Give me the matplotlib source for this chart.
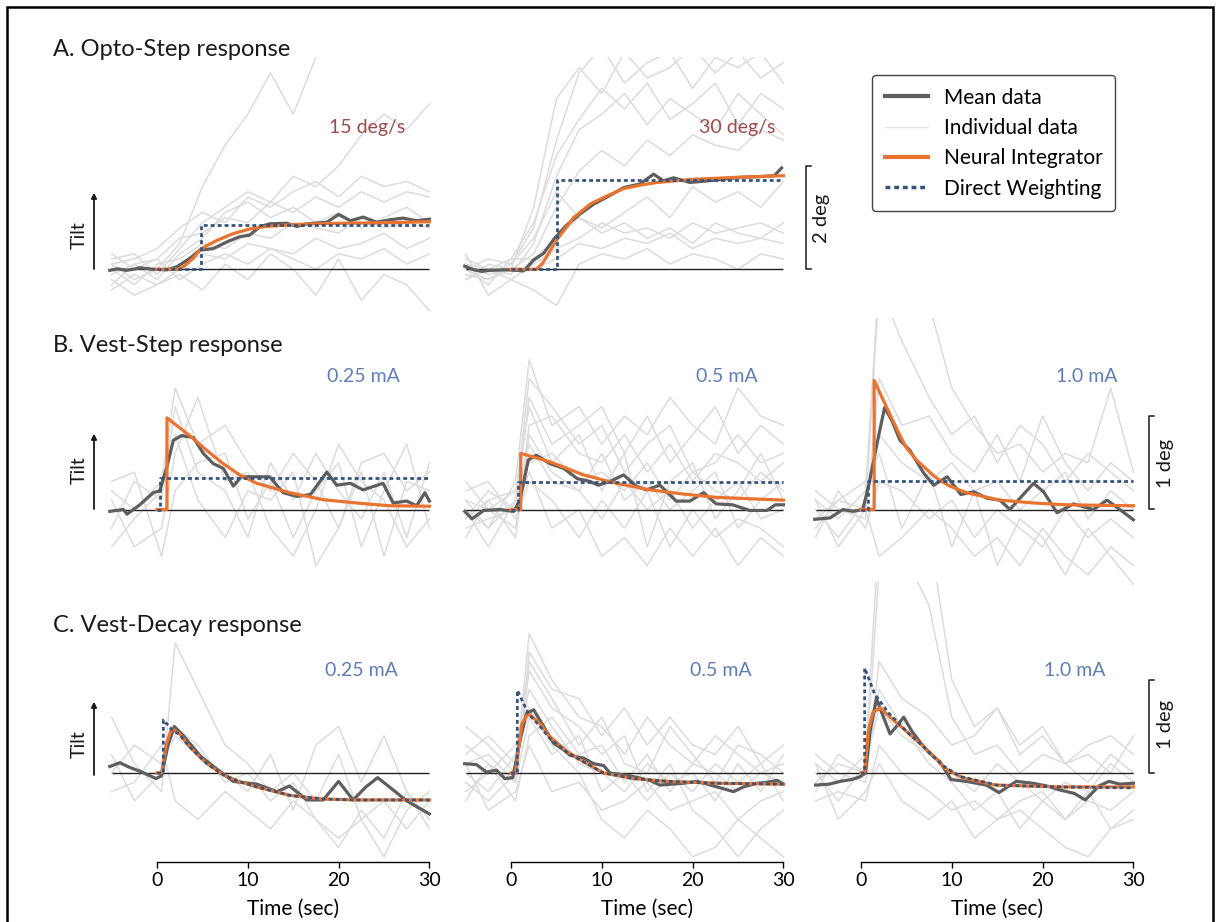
import matplotlib
matplotlib.use("Agg")
import matplotlib.pyplot as plt
from matplotlib.lines import Line2D
from matplotlib.patches import Rectangle

plt.rcParams['font.family'] = ['Lato', 'DejaVu Sans']

# ---------------- data (deg of tilt vs time in sec) ----------------
t_indiv_opto = [-5, -2.5, 0, 2.5, 5, 7.5, 10, 12.5, 15, 17.5, 20, 22.5, 25, 27.5, 30]
t_indiv_vest = [-5, -2.5, 0.5, 2, 4.5, 7.5, 10, 12.5, 15, 17.5, 20, 22.5, 25, 27.5, 30]

indiv_o15 = [
    [0.1, -0.2, 0.0, 0.5, 1.6, 2.4, 3.0, 3.8, 3.0, 4.1, 4.3, 4.5, 4.5, 4.5, 4.5],
    [0.2, 0.3, -0.1, 0.4, 0.9, 1.2, 1.5, 1.3, 1.8, 1.6, 2.0, 2.6, 3.0, 2.7, 3.2],
    [-0.3, 0.1, 0.2, 0.6, 0.7, 1.0, 0.9, 1.3, 1.1, 1.4, 1.2, 1.5, 1.3, 1.5, 1.4],
    [0.0, -0.3, 0.1, 0.2, 0.5, 0.4, 0.7, 0.6, 0.9, 0.8, 0.7, 1.0, 0.8, 0.9, 0.8],
    [-0.4, -0.1, -0.3, 0.0, 0.3, 0.2, 0.5, 0.4, 0.3, 0.6, 0.4, 0.5, 0.7, 0.4, 0.6],
    [0.3, 0.0, 0.2, -0.2, 0.1, 0.3, 0.1, 0.4, 0.2, 0.0, 0.3, 0.2, 0.4, 0.1, 0.3],
    [-0.2, -0.5, -0.3, -0.1, -0.4, 0.1, -0.2, 0.3, 0.0, -0.5, 0.2, -0.6, -0.1, -0.3, -0.8],
    [0.1, 0.2, 0.4, 0.8, 1.1, 0.9, 1.4, 1.2, 1.5, 1.7, 1.4, 1.8, 1.6, 1.7, 1.5],
    [-0.1, 0.1, -0.2, 0.3, 0.6, 1.1, 1.3, 1.0, 1.2, 0.9, 1.1, 0.8, 1.0, 1.2, 0.9],
]
indiv_o30 = [
    [0.0, -0.2, 0.1, 0.8, 2.5, 3.8, 4.3, 3.6, 4.0, 4.2, 3.5, 4.1, 3.9, 4.2, 3.6],
    [0.1, 0.0, -0.1, 0.5, 1.8, 2.7, 3.0, 3.4, 2.8, 3.3, 3.0, 2.7, 3.4, 3.0, 2.6],
    [-0.2, 0.1, 0.0, 0.3, 1.2, 1.9, 2.3, 2.0, 2.5, 2.2, 2.6, 2.4, 2.3, 2.7, 2.5],
    [0.0, -0.3, 0.2, 0.2, 0.6, 1.0, 0.8, 1.1, 1.4, 1.0, 1.6, 1.3, 1.5, 1.2, 1.7],
    [0.2, 0.0, -0.2, 0.1, 0.4, 0.6, 0.9, 0.7, 0.8, 0.6, 0.9, 0.7, 0.8, 0.9, 0.7],
    [-0.1, -0.2, 0.0, 0.0, 0.2, 0.5, 0.4, 0.6, 0.5, 0.7, 0.4, 0.6, 0.5, 0.6, 0.5],
    [0.3, -0.5, -0.2, -0.4, -0.7, 0.1, 0.3, 0.2, 0.4, 0.1, 0.3, 0.2, 0.0, 0.3, 0.2],
    [0.0, 0.2, 0.1, 0.6, 1.5, 1.0, 0.7, 0.9, 0.6, 0.8, 0.5, 0.9, 0.7, 0.6, 0.9],
    [0.1, -0.1, 0.0, 1.2, 3.3, 3.9, 3.4, 4.2, 3.7, 3.9, 4.3, 3.8, 4.2, 3.7, 4.0],
    [-0.2, 0.0, 0.2, 0.9, 2.2, 2.9, 3.5, 3.1, 3.6, 2.9, 3.2, 3.6, 2.8, 3.4, 3.1],
]
indiv_s025 = [
    [0.2, 0.0, 0.3, 1.3, 0.7, 0.9, 0.5, 0.2, 0.6, 0.3, -0.2, 0.4, -0.5, 0.3, 0.2],
    [-0.2, 0.3, 0.1, 1.1, 0.4, 0.2, -0.3, 0.5, 0.1, 0.6, 0.2, -0.1, 0.4, -0.3, 0.5],
    [0.1, -0.4, -0.2, 0.6, 1.2, 0.3, 0.4, -0.2, -0.5, 0.0, 0.7, 0.3, 0.1, -0.4, -0.1],
    [-0.4, -0.1, 0.2, 0.8, 0.1, -0.3, 0.2, 0.1, 0.4, -0.6, -0.2, 0.5, 0.6, 0.2, 0.4],
    [0.3, 0.4, -0.5, 0.2, 0.5, 0.6, -0.1, 0.3, -0.3, 0.2, 0.5, -0.4, 0.2, 0.7, -0.2],
]
indiv_s05 = [
    [0.1, -0.2, 0.3, 1.6, 0.9, 1.1, 0.7, 1.0, 0.8, 1.2, 0.9, 0.7, 1.3, 1.0, 0.9],
    [-0.1, 0.2, 0.0, 1.2, 0.7, 0.9, 1.1, 0.6, 1.0, 0.5, 0.8, 1.1, 0.6, 0.9, 0.7],
    [0.3, 0.0, -0.2, 0.9, 1.0, 0.6, 0.5, 0.8, 0.4, 0.7, 0.3, 0.6, 0.5, 0.3, 0.5],
    [-0.3, 0.1, 0.2, 0.5, 0.6, 0.3, 0.4, 0.2, 0.5, 0.1, 0.4, 0.2, 0.1, 0.4, 0.2],
    [0.0, -0.4, 0.1, 0.7, 0.3, 0.2, -0.1, 0.3, 0.0, 0.2, -0.2, 0.1, 0.3, -0.1, 0.0],
    [0.2, 0.3, -0.1, 0.3, 0.1, -0.3, 0.1, -0.2, 0.2, -0.4, 0.0, -0.3, -0.1, -0.2, -0.4],
    [-0.2, -0.1, 0.0, 0.4, -0.2, 0.0, -0.5, -0.3, -0.6, -0.2, -0.5, -0.2, -0.6, -0.3, -0.5],
    [0.1, 0.0, 0.2, 1.1, 0.5, 0.8, 0.2, 0.6, -0.4, 0.3, 0.5, -0.1, 0.2, 0.6, 0.1],
    [-0.1, 0.1, -0.3, 0.8, 0.4, 0.2, 0.6, 0.1, 0.3, 0.0, 0.2, 0.4, -0.2, 0.1, 0.3],
    [0.0, -0.2, 0.1, 1.4, 1.1, 0.7, 0.9, 0.4, 0.7, 0.9, 0.4, 0.5, 0.8, 0.5, 0.6],
]
indiv_s10 = [
    [0.1, -0.1, 0.2, 2.5, 2.6, 2.2, 1.3, 0.9, 0.6, 0.7, 0.4, 0.6, 0.5, 1.3, 0.4],
    [-0.2, 0.1, 0.0, 2.4, 1.8, 1.2, 0.8, 1.0, 0.5, 0.9, 0.7, 0.3, 0.6, 0.4, 0.2],
    [0.2, 0.0, -0.1, 1.4, 0.9, 1.0, 0.6, 0.4, 0.8, 0.3, 1.0, 0.5, 0.2, 0.5, 0.3],
    [0.0, -0.3, 0.1, 0.8, 0.5, 0.3, 0.5, 0.2, 0.3, 0.0, 0.2, 0.4, -0.1, 0.2, 0.0],
    [-0.3, 0.2, -0.2, 0.3, 0.2, -0.1, 0.1, -0.3, 0.0, -0.2, -0.4, 0.0, -0.3, -0.1, -0.3],
    [0.1, -0.4, 0.0, -0.5, -0.3, 0.0, -0.2, -0.5, -0.3, -0.6, -0.2, -0.5, -0.7, -0.4, -0.6],
    [-0.1, 0.1, 0.3, 0.6, -0.2, 0.4, -0.4, 0.2, -0.6, -0.1, -0.3, -0.7, -0.2, -0.5, -0.8],
]
indiv_d025 = [
    [0.6, 0.1, -0.2, 1.4, 0.9, 0.3, 0.1, -0.2, 0.0, -0.3, 0.2, -0.5, -0.3, -0.6, -0.3],
    [0.0, 0.3, 0.1, 0.4, 0.2, 0.0, -0.2, 0.2, -0.4, 0.3, 0.5, -0.1, 0.4, -0.2, -0.5],
    [-0.2, -0.1, 0.3, -0.3, -0.5, -0.2, -0.4, -0.6, -0.3, -0.5, -0.8, -0.4, -0.7, -0.2, -0.6],
    [0.2, -0.3, 0.0, 0.5, 0.3, -0.1, 0.0, -0.3, -0.1, -0.5, -0.7, -0.5, -0.9, -0.4, -0.2],
]
indiv_d05 = [
    [0.5, 0.3, 0.0, 1.5, 1.0, 0.6, 0.5, 0.2, 0.6, 0.3, 0.1, 0.4, 0.2, 0.0, 0.1],
    [0.2, 0.4, 0.1, 1.2, 0.8, 0.3, 0.6, 0.1, 0.0, 0.5, 0.2, -0.1, 0.3, 0.2, 0.0],
    [0.0, -0.2, 0.2, 0.9, 0.5, 0.1, 0.0, -0.2, 0.1, -0.1, 0.0, -0.3, 0.1, -0.2, 0.2],
    [-0.3, 0.1, -0.1, 0.6, 0.2, 0.4, -0.2, 0.0, -0.3, 0.0, -0.2, 0.1, -0.1, 0.1, -0.3],
    [0.1, -0.4, -0.2, 0.3, -0.2, -0.1, -0.4, -0.3, -0.1, -0.4, -0.3, -0.2, -0.5, -0.3, -0.2],
    [-0.2, 0.0, 0.3, 0.7, 0.3, 0.0, -0.5, -0.7, -0.4, -0.6, -0.9, -0.8, -0.5, -0.7, -0.9],
    [0.3, 0.1, -0.3, 0.4, 0.6, 0.2, 0.3, -0.1, 0.2, -0.2, 0.1, 0.0, -0.2, 0.0, -0.1],
    [-0.1, -0.3, 0.0, 1.1, 0.7, 0.5, 0.2, 0.4, -0.2, 0.1, -0.4, -0.6, -0.9, -0.6, -0.4],
    [0.1, 0.2, -0.1, 1.3, 0.9, 0.8, 0.4, 0.7, 0.3, 0.6, 0.3, 0.2, 0.5, 0.1, 0.3],
]
indiv_d10 = [
    [0.1, -0.1, 0.2, 2.6, 2.4, 1.8, 0.6, 0.2, 0.3, 0.0, 0.2, 0.1, -0.1, 0.2, 0.0],
    [-0.2, 0.2, 0.0, 2.2, 2.5, 2.6, 1.0, 0.5, 0.7, 0.3, 0.5, 0.1, 0.3, 0.4, 0.2],
    [0.2, 0.0, -0.1, 1.2, 0.8, 0.6, 0.3, 0.4, 0.7, 0.2, 0.4, 0.1, 0.2, 0.0, 0.4],
    [0.0, -0.3, 0.1, 0.7, 0.4, 0.2, 0.0, -0.2, 0.1, -0.1, -0.3, -0.1, -0.2, 0.1, -0.1],
    [-0.3, -0.2, -0.3, 0.3, 0.0, -0.2, -0.4, -0.3, -0.5, -0.3, -0.2, -0.5, -0.3, -0.4, -0.2],
    [0.1, -0.5, -0.2, 0.1, -0.3, -0.5, -0.3, -0.7, -0.5, -0.4, -0.6, -0.8, -0.9, -0.6, -0.5],
    [-0.1, 0.1, 0.0, 0.9, 0.5, 0.1, -0.1, -0.4, -0.2, -0.6, -0.3, -0.5, -0.2, -0.6, -0.4],
]

# mean data
t_mean_o15 = [-5.2, -4.3, -3.4, -2.6, -1.9, -0.4, 1.1, 2.2, 3.6, 4.7, 6.2, 7.7, 9.1, 10.2, 11.3,
              12.4, 14.3, 15.4, 16.5, 18.7, 20.0, 21.3, 22.7, 24.2, 25.7, 27.1, 28.6, 30.0]
mean_o15 = [-0.02, 0.01, -0.02, 0.0, 0.03, 0.0, -0.01, 0.05, 0.21, 0.37, 0.40, 0.53, 0.63, 0.66, 0.82,
            0.88, 0.89, 0.83, 0.88, 0.91, 1.06, 0.94, 1.01, 0.91, 0.96, 0.99, 0.94, 0.97]
t_mean_o30 = [-5.1, -4.1, -3.2, -2.3, -0.5, 1.4, 2.5, 3.6, 4.8, 6.1, 7.6, 9.1, 10.5, 12.4, 14.2,
              15.7, 16.8, 17.9, 19.7, 21.6, 23.4, 25.3, 27.1, 29.0, 29.8]
mean_o30 = [0.06, -0.01, -0.04, -0.02, -0.01, -0.03, 0.18, 0.31, 0.60, 0.85, 1.07, 1.26, 1.39, 1.58, 1.65,
            1.84, 1.71, 1.77, 1.68, 1.71, 1.74, 1.78, 1.79, 1.81, 1.96]
t_mean_s025 = [-5.2, -3.7, -3.3, -1.9, -0.4, 0.3, 1.1, 1.8, 2.7, 4.0, 5.1, 6.2, 7.3, 8.4, 9.3, 11.0,
               12.4, 13.9, 15.4, 16.9, 18.7, 19.8, 21.3, 22.7, 24.9, 26.0, 27.5, 28.6, 29.5, 30.0]
mean_s025 = [-0.02, 0.0, -0.05, 0.05, 0.18, 0.2, 0.46, 0.74, 0.79, 0.77, 0.6, 0.49, 0.44, 0.25, 0.35, 0.35,
             0.35, 0.18, 0.14, 0.16, 0.40, 0.26, 0.28, 0.21, 0.28, 0.07, 0.09, 0.04, 0.18, 0.09]
t_mean_s05 = [-5.1, -4.3, -3.0, -1.2, 0.3, 1.0, 1.9, 2.8, 4.3, 5.8, 7.3, 8.7, 9.6, 10.9, 12.4, 13.8,
              14.9, 16.4, 18.2, 19.7, 21.2, 22.6, 24.4, 26.3, 28.2, 29.1, 30.0]
mean_s05 = [-0.02, -0.10, -0.01, 0.0, -0.02, 0.1, 0.53, 0.58, 0.49, 0.44, 0.33, 0.30, 0.26, 0.30, 0.37, 0.25,
            0.21, 0.26, 0.09, 0.09, 0.18, 0.06, 0.05, -0.01, -0.01, 0.05, 0.05]
t_mean_s10 = [-5.1, -3.4, -2.0, -0.9, 0.2, 0.9, 1.9, 2.6, 3.4, 4.3, 5.4, 6.9, 8.0, 9.5, 11.0, 12.4,
              13.9, 15.3, 16.4, 17.5, 19.0, 20.1, 21.6, 23.4, 25.6, 27.1, 28.5, 30.0]
mean_s10 = [-0.105, -0.09, 0.0, -0.02, 0.0, 0.28, 0.77, 1.09, 0.95, 0.74, 0.63, 0.39, 0.26, 0.35, 0.16, 0.19,
            0.12, 0.10, 0.0, 0.12, 0.28, 0.19, -0.035, 0.06, 0.0, 0.10, 0.0, -0.11]
t_mean_d025 = [-5.2, -4.1, -3.0, -1.9, -0.1, 0.5, 1.2, 1.9, 3.0, 4.8, 6.6, 8.4, 11.0, 13.2, 14.6, 16.5,
               18.3, 20.0, 21.6, 23.0, 24.3, 25.6, 27.5, 30.0]
mean_d025 = [0.07, 0.11, 0.06, 0.02, -0.06, -0.03, 0.3, 0.5, 0.39, 0.18, 0.04, -0.09, -0.12, -0.2, -0.14, -0.29,
             -0.29, -0.09, -0.29, -0.15, -0.05, -0.15, -0.3, -0.44]
t_mean_d05 = [-5.1, -3.8, -2.7, -1.6, -0.7, 0.2, 1.0, 1.7, 2.5, 3.6, 4.7, 5.8, 6.5, 8.0, 9.1, 10.2, 10.9,
              13.1, 15.3, 16.4, 19.0, 20.5, 22.7, 24.5, 25.6, 27.1, 28.2, 29.3, 30.0]
mean_d05 = [0.10, 0.09, 0.01, 0.03, -0.06, -0.05, 0.35, 0.64, 0.68, 0.5, 0.32, 0.25, 0.19, 0.16, 0.10, 0.08, 0.0,
            -0.03, -0.08, -0.13, -0.11, -0.09, -0.15, -0.2, -0.15, -0.11, -0.1, -0.08, -0.12]
t_mean_d10 = [-5.0, -3.5, -2.3, -1.0, -0.1, 0.5, 1.0, 1.7, 2.4, 3.2, 3.9, 4.7, 5.6, 6.6, 7.6, 8.7, 9.9,
              11.6, 13.8, 15.2, 17.1, 18.9, 20.5, 21.8, 23.5, 24.7, 26.2, 27.3, 28.5, 30.0]
mean_d10 = [-0.13, -0.12, -0.09, -0.07, -0.04, 0.0, 0.45, 0.8, 0.62, 0.42, 0.5, 0.6, 0.45, 0.32, 0.21, 0.12, -0.07,
            -0.09, -0.13, -0.21, -0.09, -0.11, -0.14, -0.18, -0.22, -0.29, -0.14, -0.09, -0.12, -0.11]

# Neural Integrator model
t_ni_o15 = [0, 2.3, 3.0, 4.0, 4.7, 5.5, 6.6, 8.4, 10.2, 12.1, 15.7, 20, 25, 30]
ni_o15 = [0, 0, 0.06, 0.22, 0.37, 0.46, 0.56, 0.69, 0.78, 0.83, 0.87, 0.89, 0.90, 0.92]
t_ni_o30 = [0, 2.8, 3.5, 5.0, 6.9, 8.8, 10.6, 12.4, 14.3, 16.1, 20, 25, 30]
ni_o30 = [0, 0, 0.12, 0.56, 1.0, 1.27, 1.42, 1.56, 1.63, 1.68, 1.74, 1.78, 1.81]
t_ni_s025 = [0, 1.1, 1.1, 3.6, 5.5, 7.3, 9.1, 11.0, 14.6, 18.3, 21.9, 25.6, 30]
ni_s025 = [0, 0, 0.98, 0.79, 0.63, 0.49, 0.37, 0.28, 0.18, 0.105, 0.07, 0.04, 0.035]
t_ni_s05 = [0, 1.07, 1.07, 4.3, 8.0, 11.6, 15.3, 19.0, 22.6, 30]
ni_s05 = [0, 0, 0.60, 0.51, 0.37, 0.28, 0.21, 0.165, 0.13, 0.10]
t_ni_s10 = [0, 1.45, 1.45, 2.5, 4.3, 5.0, 6.1, 7.9, 8.7, 9.8, 11.6, 15.3, 19.0, 22.6, 30]
ni_s10 = [0, 0, 1.38, 1.16, 0.79, 0.66, 0.53, 0.37, 0.31, 0.25, 0.18, 0.10, 0.07, 0.05, 0.04]
t_ni_d025 = [0, 0.5, 1.0, 1.6, 2.5, 3.6, 5.5, 7.3, 9.0, 11.0, 14.6, 18.3, 22, 30]
ni_d025 = [0, 0, 0.3, 0.48, 0.42, 0.28, 0.10, -0.02, -0.09, -0.15, -0.24, -0.28, -0.29, -0.29]
t_ni_d05 = [0, 0.5, 1.2, 1.9, 3.2, 4.3, 6.2, 8.0, 10.2, 13.5, 17.2, 22.7, 30]
ni_d05 = [0, 0, 0.53, 0.64, 0.53, 0.39, 0.23, 0.12, 0.0, -0.06, -0.09, -0.11, -0.12]
t_ni_d10 = [0, 0.4, 0.8, 1.3, 2.1, 3.9, 5.7, 7.6, 9.4, 11.2, 14.8, 22.2, 30]
ni_d10 = [0, 0, 0.45, 0.65, 0.70, 0.54, 0.39, 0.22, 0.04, -0.05, -0.13, -0.15, -0.15]

# Direct Weighting model
t_dw_o15 = [0, 4.9, 4.9, 30]
dw_o15 = [0, 0, 0.86, 0.86]
t_dw_o30 = [0, 5.1, 5.1, 30]
dw_o30 = [0, 0, 1.72, 1.72]
t_dw_s025 = [0, 0.35, 0.35, 30]
dw_s025 = [0, 0, 0.34, 0.34]
t_dw_s05 = [0, 0.8, 0.8, 30]
dw_s05 = [0, 0, 0.29, 0.29]
t_dw_s10 = [0, 0.8, 0.8, 30]
dw_s10 = [0, 0, 0.31, 0.31]
t_dw_d025 = [0, 0.7, 0.7, 1.6, 2.5, 3.6, 5.5, 7.3, 9.0, 11.0, 14.6, 18.3, 22, 30]
dw_d025 = [0, 0, 0.57, 0.47, 0.41, 0.28, 0.10, -0.02, -0.09, -0.15, -0.24, -0.28, -0.29, -0.29]
t_dw_d05 = [0, 0.7, 0.7, 1.9, 3.2, 4.3, 6.2, 8.0, 10.2, 13.5, 17.2, 22.7, 30]
dw_d05 = [0, 0, 0.89, 0.64, 0.50, 0.37, 0.22, 0.12, 0.0, -0.06, -0.09, -0.11, -0.12]
t_dw_d10 = [0, 0.4, 0.4, 1.5, 3.0, 5.0, 7.0, 9.0, 11.0, 15.0, 22, 30]
dw_d10 = [0, 0, 1.13, 0.85, 0.65, 0.45, 0.27, 0.08, -0.04, -0.13, -0.15, -0.16]

cond_labels = [["15 deg/s", "30 deg/s", None],
               ["0.25 mA", "0.5 mA", "1.0 mA"],
               ["0.25 mA", "0.5 mA", "1.0 mA"]]
row_titles = ["A. Opto-Step response", "B. Vest-Step response", "C. Vest-Decay response"]
time_ticks = [0, 10, 20, 30]
scale_bars = [2, 1, 1]

# ---------------- style ----------------
W, H = 1218, 922
C_MEAN = "#5e5e5e"
C_INDIV = "#dcdcdc"
C_NI = "#ea7330"
C_DW = "#37557a"
C_OPTO = "#9c4a4c"
C_VEST = "#5f7fb4"
DOTS = (0, (1.4, 1.1))

fig = plt.figure(figsize=(W / 100, H / 100), dpi=100)

def fig_xy(px, py):
    return px / W, 1 - py / H

col_x0 = [157, 511, 861]          # pixel of t = 0
pps = 9.08                        # pixels per second
xlim = (-5.6, 30.6)
# (baseline px, px per deg, ylim)
rows = [(269.3, 51.7, (-1.15, 4.1)),
        (509.5, 93.5, (-0.85, 2.05)),
        (773.0, 93.0, (-0.957, 2.05))]

panels = {
    (0, 0): (t_indiv_opto, indiv_o15, t_mean_o15, mean_o15, t_ni_o15, ni_o15, t_dw_o15, dw_o15),
    (0, 1): (t_indiv_opto, indiv_o30, t_mean_o30, mean_o30, t_ni_o30, ni_o30, t_dw_o30, dw_o30),
    (1, 0): (t_indiv_vest, indiv_s025, t_mean_s025, mean_s025, t_ni_s025, ni_s025, t_dw_s025, dw_s025),
    (1, 1): (t_indiv_vest, indiv_s05, t_mean_s05, mean_s05, t_ni_s05, ni_s05, t_dw_s05, dw_s05),
    (1, 2): (t_indiv_vest, indiv_s10, t_mean_s10, mean_s10, t_ni_s10, ni_s10, t_dw_s10, dw_s10),
    (2, 0): (t_indiv_vest, indiv_d025, t_mean_d025, mean_d025, t_ni_d025, ni_d025, t_dw_d025, dw_d025),
    (2, 1): (t_indiv_vest, indiv_d05, t_mean_d05, mean_d05, t_ni_d05, ni_d05, t_dw_d05, dw_d05),
    (2, 2): (t_indiv_vest, indiv_d10, t_mean_d10, mean_d10, t_ni_d10, ni_d10, t_dw_d10, dw_d10),
}

axes = {}
for (r, c), (ti, indiv, tm, m, tn, n, td, d) in panels.items():
    base, ppd, ylim = rows[r]
    left = col_x0[c] + xlim[0] * pps
    width = (xlim[1] - xlim[0]) * pps
    top = base - ylim[1] * ppd
    height = (ylim[1] - ylim[0]) * ppd
    ax = fig.add_axes([left / W, 1 - (top + height) / H, width / W, height / H])
    ax.set_xlim(xlim)
    ax.set_ylim(ylim)
    ax.patch.set_alpha(0)
    for tr in indiv:
        ax.plot(ti, tr, color=C_INDIV, lw=1.1, zorder=1)
    ax.hlines(0, ti[0], ti[-1], color="#222222", lw=1.0, zorder=2)
    ax.plot(tm, m, color=C_MEAN, lw=2.3, zorder=3, solid_joinstyle="round")
    ax.plot(tn, n, color=C_NI, lw=2.3, zorder=4)
    ax.plot(td, d, color=C_DW, lw=2.0, ls=DOTS, zorder=5)
    for s in ["top", "left", "right"]:
        ax.spines[s].set_visible(False)
    ax.set_yticks([])
    if r == 2:
        ax.spines["bottom"].set_bounds(0, 30)
        ax.spines["bottom"].set_linewidth(1.0)
        ax.set_xticks(time_ticks)
        ax.tick_params(axis="x", length=4, width=1.0, pad=3, labelsize=14)
        ax.set_xlabel("Time (sec)", fontsize=15)
        ax.xaxis.set_label_coords((15 - xlim[0]) / (xlim[1] - xlim[0]), -(899 - 862) / height)
        ax.xaxis.label.set_va("top")
    else:
        ax.spines["bottom"].set_visible(False)
        ax.set_xticks([])
    axes[(r, c)] = ax

# row titles
for py, title in zip([56, 352, 632], row_titles):
    fig.text(*fig_xy(53, py), title, fontsize=17, va="baseline", ha="left", color="#1a1a1a")

# condition labels
label_right = [[405, 775, None], [400, 758, 1117], [398, 752, 1105]]
label_base = [133, 381.5, 676.5]
for r in range(3):
    for c in range(3):
        txt = cond_labels[r][c]
        if txt is None:
            continue
        fig.text(*fig_xy(label_right[r][c], label_base[r]), txt, fontsize=14,
                 ha="right", va="baseline", color=C_OPTO if r == 0 else C_VEST)

# Tilt arrows and labels
tilt_arrow = [(269, 193), (509, 434), (775, 702)]
tilt_label_y = [235, 470, 744]
for (y0, y1), ly in zip(tilt_arrow, tilt_label_y):
    fig.add_artist(plt.annotate("", xy=fig_xy(94, y1), xytext=fig_xy(94, y0),
                                xycoords="figure fraction", textcoords="figure fraction",
                                arrowprops=dict(arrowstyle="-|>", color="#1a1a1a", lw=1.0,
                                                mutation_scale=8, shrinkA=0, shrinkB=0)))
    fig.text(*fig_xy(79, ly), "Tilt", rotation=90, fontsize=14, ha="center", va="center",
             color="#1a1a1a")

# scale bars
bar_pos = [((0, 1), 806, 822, 218), ((1, 2), 1149, 1166, 463), ((2, 2), 1149, 1166, 724)]
for ((r, c), bx, lx, ly), size in zip(bar_pos, scale_bars):
    base, ppd, _ = rows[r]
    y0 = base
    y1 = base - size * ppd
    xs = [bx + 5, bx, bx, bx + 5]
    ys = [y1, y1, y0, y0]
    fig.add_artist(Line2D([fig_xy(x, 0)[0] for x in xs], [fig_xy(0, y)[1] for y in ys],
                          color="#1a1a1a", lw=1.1))
    fig.text(*fig_xy(lx, ly), f"{size} deg", rotation=90, fontsize=14.5, ha="center",
             va="center", color="#1a1a1a")

# legend
handles = [Line2D([], [], color=C_MEAN, lw=3.0),
           Line2D([], [], color="#e4e4e4", lw=1.0),
           Line2D([], [], color=C_NI, lw=3.0),
           Line2D([], [], color=C_DW, lw=2.5, ls=DOTS)]
labels = ["Mean data", "Individual data", "Neural Integrator", "Direct Weighting"]
leg = fig.legend(handles, labels, loc="upper left", bbox_to_anchor=fig_xy(872, 75),
                 fontsize=15, frameon=True, fancybox=True, framealpha=1,
                 edgecolor="#444444", handlelength=2.1, handletextpad=0.75,
                 labelspacing=0.5, borderpad=0.6, borderaxespad=0)
leg.get_frame().set_linewidth(1.0)

# outer border
fig.add_artist(Rectangle(fig_xy(7, 940), (1213 - 7) / W, (940 - 7) / H, fill=False,
                         edgecolor="black", lw=1.8, transform=fig.transFigure))

fig.savefig("out.png", dpi=100, facecolor="white")
